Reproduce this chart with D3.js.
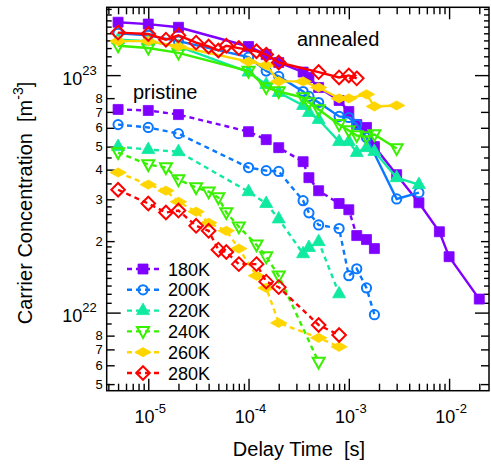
<!DOCTYPE html>
<html><head><meta charset="utf-8">
<script src="https://cdn.jsdelivr.net/npm/d3@7"></script>
<style>
html,body{margin:0;padding:0;background:#fff;}
svg text{font-family:"Liberation Sans",Arial,Helvetica,sans-serif;fill:#000;}
</style></head>
<body><svg id="c" width="491" height="468"></svg>
<script>
// ---------- data ----------
const seriesNames = ["180K","200K","220K","240K","260K","280K"];
const seriesColors = ["#8000ff","#0a78ff","#10eaa0","#38f000","#ffd500","#ff0000"];

// pristine (dashed)
const t180p = [5e-6,1e-5,2e-5,1e-4,1.5e-4,2e-4,3.5e-4,4e-4,5e-4,8e-4,1e-3,1.2e-3,1.5e-3,1.8e-3];
const n180p = [7.17e22,7.1e22,6.82e22,5.78e22,5.35e22,4.95e22,4.32e22,3.70e22,3.26e22,2.88e22,2.71e22,2.11e22,2.03e22,1.86e22];
const t200p = [5e-6,1e-5,2e-5,1e-4,1.5e-4,2e-4,3.5e-4,4e-4,5e-4,8e-4,1e-3,1.2e-3,1.5e-3,1.8e-3];
const n200p = [6.19e22,6.02e22,5.67e22,4.08e22,3.96e22,3.93e22,2.96e22,2.63e22,2.34e22,2.26e22,1.43e22,1.53e22,1.27e22,9.8e21];
const t220p = [5e-6,1e-5,2e-5,1e-4,1.5e-4,2e-4,3.5e-4,4e-4,5e-4,8e-4];
const n220p = [5.0e22,4.86e22,4.76e22,3.23e22,2.88e22,2.48e22,1.77e22,1.88e22,1.99e22,1.2e22];
const t240p = [5e-6,1e-5,1.5e-5,2e-5,3e-5,4e-5,5e-5,6e-5,8e-5,1.2e-4,1.5e-4,2e-4,5e-4];
const n240p = [4.72e22,4.2e22,4.08e22,3.63e22,3.36e22,3.23e22,3.05e22,2.64e22,2.30e22,1.93e22,1.72e22,1.43e22,6.19e21];
const t260p = [5e-6,1e-5,1.5e-5,2e-5,3e-5,4e-5,6e-5,8e-5,1.2e-4,1.5e-4,2e-4,5e-4,8e-4];
const n260p = [3.89e22,3.46e22,3.26e22,2.93e22,2.66e22,2.39e22,2.21e22,1.86e22,1.43e22,1.27e22,9.05e21,7.83e21,7.18e21];
const t280p = [5e-6,1e-5,1.5e-5,2e-5,3e-5,4e-5,5e-5,6e-5,8e-5,1.2e-4,1.5e-4,2e-4,5e-4,8e-4];
const n280p = [3.29e22,2.88e22,2.64e22,2.69e22,2.32e22,2.21e22,1.84e22,1.80e22,1.60e22,1.60e22,1.35e22,1.28e22,8.87e21,8.05e21];

// annealed (solid)
const t180a = [5e-6,1e-5,2e-5,1e-4,1.5e-4,2e-4,3.5e-4,4e-4,5e-4,8e-4,1e-3,1.2e-3,1.5e-3,1.8e-3,3e-3,5e-3,8e-3,1e-2,2e-2];
const n180a = [1.67e23,1.64e23,1.59e23,1.32e23,1.22e23,1.13e23,1.03e23,9.78e22,8.87e22,7.82e22,7.03e22,6.19e22,6.02e22,5.0e22,3.81e22,2.9e22,2.19e22,1.72e22,1.14e22];
const t200a = [5e-6,1e-5,2e-5,1e-4,1.5e-4,2e-4,3.5e-4,4e-4,5e-4,8e-4,1e-3,1.2e-3,1.5e-3,3e-3,5e-3];
const n200a = [1.50e23,1.47e23,1.39e23,1.19e23,1.04e23,9.88e22,8.53e22,8.13e22,7.67e22,6.70e22,6.63e22,6.2e22,5.46e22,3.01e22,3.2e22];
const t220a = [5e-6,1e-5,2e-5,1e-4,1.5e-4,2e-4,3.5e-4,4e-4,5e-4,8e-4,1e-3,1.2e-3,1.5e-3,1.8e-3,3e-3,5e-3];
const n220a = [1.41e23,1.39e23,1.32e23,1.03e23,9.14e22,8.45e22,7.45e22,6.96e22,6.5e22,5.25e22,5.25e22,4.72e22,4.95e22,4.77e22,3.70e22,3.46e22];
const t240a = [5e-6,1e-5,2e-5,1e-4,1.5e-4,2e-4,3.5e-4,4e-4,5e-4,8e-4,1e-3,1.2e-3,1.5e-3,1.8e-3,3e-3];
const n240a = [1.33e23,1.30e23,1.24e23,1.04e23,8.87e22,8.53e22,8.05e22,7.67e22,7.17e22,6.2e22,5.84e22,5.57e22,5.51e22,5.62e22,4.91e22];
const t260a = [5e-6,1e-5,2e-5,1e-4,1.5e-4,2e-4,3.5e-4,5e-4,8e-4,1e-3,1.5e-3,1.8e-3,3e-3];
const n260a = [1.39e23,1.39e23,1.32e23,1.14e23,1.10e23,9.41e22,9.41e22,8.87e22,7.98e22,7.98e22,8.3e22,7.38e22,7.45e22];
const t280a = [5e-6,1e-5,1.5e-5,2e-5,3e-5,4e-5,5e-5,6e-5,8e-5,1.2e-4,1.5e-4,2e-4,5e-4,8e-4,1e-3,1.2e-3];
const n280a = [1.51e23,1.49e23,1.41e23,1.47e23,1.37e23,1.32e23,1.27e23,1.33e23,1.30e23,1.26e23,1.22e23,1.13e23,1.03e23,9.78e22,9.97e22,9.69e22];

// axis ticks
const xMajorTicks = [1e-5,1e-4,1e-3,1e-2];
const xMajorExp = ["-5","-4","-3","-2"];
const yMajorTicks = [1e22,1e23];
const yMajorExp = ["22","23"];
const yLabeledMant = [2,3,4,5,6,7,8];
const yMinorMant = [1.1,1.2,1.3,1.4,1.5,1.6,1.7,1.8,1.9,2.2,2.4,2.6,2.8,3.5,4.5,9];

// ---------- layout ----------
const L=106.7, R=489, T=7.3, B=390.7;
const svg = d3.select("#c");
const x = d3.scaleLog().domain([3.85e-6, 2.5e-2]).range([L, R]);
const y = d3.scaleLog().domain([4.69e21, 1.93e23]).range([B, T]);
const [y0,y1] = y.domain();
const inY = v => v >= y0*0.9999 && v <= y1*1.0001;
const decades = [1e21,1e22,1e23];
const yLab = decades.flatMap(d => yLabeledMant.map(m => m*d)).filter(inY);
const yMin = decades.flatMap(d => yMinorMant.map(m => m*d)).filter(inY);
const xMin = [1e-6,1e-5,1e-4,1e-3,1e-2].flatMap(d => [2,3,4,5,6,7,8,9].map(m => m*d))
  .filter(v => v >= x.domain()[0] && v <= x.domain()[1]);

// ---------- axes ----------
function styleAxis(g){
  g.select(".domain").remove();
  g.selectAll(".tick line").attr("stroke","#000").attr("stroke-width",1.4);
}
const gLeft = svg.append("g").attr("transform",`translate(${L},0)`);
gLeft.append("g").call(d3.axisLeft(y).tickValues(yMajorTicks).tickSize(-14).tickFormat("")).call(styleAxis);
gLeft.append("g").call(d3.axisLeft(y).tickValues(yMin).tickSize(-5).tickFormat("")).call(styleAxis);
const gl2 = gLeft.append("g").call(d3.axisLeft(y).tickValues(yLab).tickSize(-8).tickPadding(4)
   .tickFormat(v => String(Math.round(v/Math.pow(10,Math.floor(Math.log10(v)+1e-9)))))).call(styleAxis);
gl2.selectAll("text").attr("font-size",13).attr("font-family",null).attr("fill","#000");

const gRight = svg.append("g").attr("transform",`translate(${R},0)`);
gRight.append("g").call(d3.axisRight(y).tickValues(yMajorTicks).tickSize(-14).tickFormat("")).call(styleAxis);
gRight.append("g").call(d3.axisRight(y).tickValues(yMin).tickSize(-5).tickFormat("")).call(styleAxis);
gRight.append("g").call(d3.axisRight(y).tickValues(yLab).tickSize(-8).tickFormat("")).call(styleAxis);

const gBot = svg.append("g").attr("transform",`translate(0,${B})`);
gBot.append("g").call(d3.axisBottom(x).tickValues(xMajorTicks).tickSize(-12).tickFormat("")).call(styleAxis);
gBot.append("g").call(d3.axisBottom(x).tickValues(xMin).tickSize(-7).tickFormat("")).call(styleAxis);
const gTop = svg.append("g").attr("transform",`translate(0,${T})`);
gTop.append("g").call(d3.axisTop(x).tickValues(xMajorTicks).tickSize(-12).tickFormat("")).call(styleAxis);
gTop.append("g").call(d3.axisTop(x).tickValues(xMin).tickSize(-7).tickFormat("")).call(styleAxis);

// major labels with superscripts
yMajorTicks.forEach((v,i) => {
  const t = svg.append("text").attr("x", L-10).attr("y", y(v)+9.5).attr("text-anchor","end").attr("font-size",18);
  t.append("tspan").text("10");
  t.append("tspan").attr("dy",-10).attr("font-size",13).text(yMajorExp[i]);
});
xMajorTicks.forEach((v,i) => {
  const t = svg.append("text").attr("x", x(v)+2).attr("y", 423).attr("text-anchor","middle").attr("font-size",18);
  t.append("tspan").text("10");
  t.append("tspan").attr("dy",-10).attr("font-size",13).text(xMajorExp[i]);
});

// frame
svg.append("rect").attr("x",L).attr("y",T).attr("width",R-L).attr("height",B-T)
  .attr("fill","none").attr("stroke","#000").attr("stroke-width",1.5);

// titles
svg.append("text").attr("x",299).attr("y",456).attr("text-anchor","middle").attr("font-size",20)
  .text("Delay Time\u00a0\u00a0[s]");
const yt = svg.append("text").attr("transform","translate(32,203) rotate(-90)").attr("text-anchor","middle").attr("font-size",20);
yt.append("tspan").text("Carrier Concentration\u00a0\u00a0[m");
yt.append("tspan").attr("dy",-9).attr("font-size",14).text("-3");
yt.append("tspan").attr("dy",9).text("]");

svg.append("text").attr("x",133).attr("y",99).attr("font-size",20).text("pristine");
svg.append("text").attr("x",297).attr("y",46).attr("font-size",20).text("annealed");

// ---------- markers ----------
const markerDefs = [
  {type:"path", d:"M-5,-5H5V5H-5Z", filled:true},            // square
  {type:"circle", r:4.6, filled:false},                      // open circle
  {type:"path", d:"M0,-7.5L6.5,4L-6.5,4Z", filled:true},      // triangle up
  {type:"path", d:"M0,6.5L6,-4.3L-6,-4.3Z", filled:false},    // open triangle down
  {type:"path", d:"M0,-4.6L8.2,0L0,4.6L-8.2,0Z", filled:true},// flat diamond
  {type:"path", d:"M0,-6.8L6.8,0L0,6.8L-6.8,0Z", filled:false}// open diamond
];
function drawMarker(g, i, cx, cy){
  const m = markerDefs[i], c = seriesColors[i];
  let el;
  if (m.type==="circle") el = g.append("circle").attr("cx",cx).attr("cy",cy).attr("r",m.r);
  else el = g.append("path").attr("d",m.d).attr("transform",`translate(${cx},${cy})`);
  if (m.filled) el.attr("fill",c).attr("stroke",c).attr("stroke-width",0.8);
  else el.attr("fill","none").attr("stroke",c).attr("stroke-width",2);
}

const pristine = [[t180p,n180p],[t200p,n200p],[t220p,n220p],[t240p,n240p],[t260p,n260p],[t280p,n280p]];
const annealed = [[t180a,n180a],[t200a,n200a],[t220a,n220a],[t240a,n240a],[t260a,n260a],[t280a,n280a]];

svg.append("clipPath").attr("id","clip").append("rect").attr("x",L).attr("y",T).attr("width",R-L).attr("height",B-T);
const plot = svg.append("g").attr("clip-path","url(#clip)");
const line = d3.line().x(d=>x(d[0])).y(d=>y(d[1]));

function drawSeries(arr, dashed){
  arr.forEach(([ts,ns],i) => {
    const pts = ts.map((t,k)=>[t,ns[k]]);
    const g = plot.append("g");
    g.append("path").attr("d",line(pts)).attr("fill","none").attr("stroke",seriesColors[i])
      .attr("stroke-width",2.4).attr("stroke-dasharray",dashed?"5,4":null);
    pts.forEach(p => drawMarker(g,i,x(p[0]),y(p[1])));
  });
}
drawSeries(pristine,true);
drawSeries(annealed,false);

// ---------- legend ----------
const lg = svg.append("g");
seriesNames.forEach((name,i) => {
  const ly = 269 + i*20.8;
  lg.append("line").attr("x1",127).attr("x2",161).attr("y1",ly).attr("y2",ly)
    .attr("stroke",seriesColors[i]).attr("stroke-width",2.4).attr("stroke-dasharray","5,4");
  drawMarker(lg,i,143,ly);
  lg.append("text").attr("x",168).attr("y",ly+6.5).attr("font-size",18).text(name);
});
</script>
</body></html>
